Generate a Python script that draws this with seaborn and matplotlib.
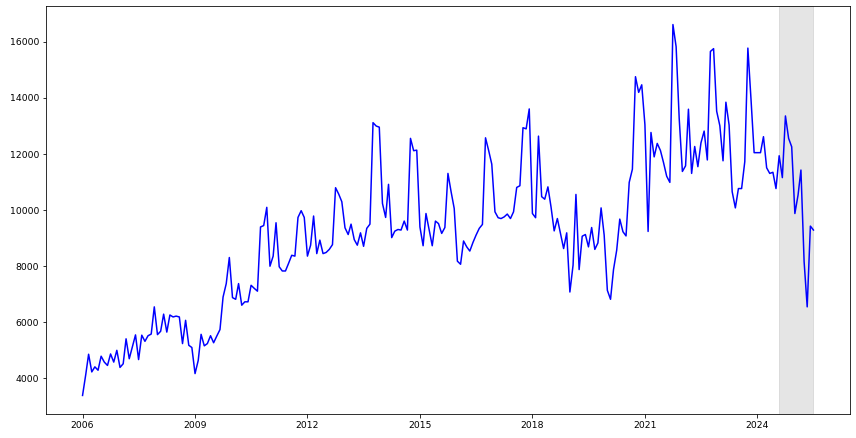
import pandas as pd
import numpy as np
import matplotlib
matplotlib.use('Agg')
import matplotlib.pyplot as plt
import matplotlib.dates as mdates
import seaborn as sns

# serie mensal, jan/2006 ate jul/2025
inicio = '2006-01-01'
valores = [
    3390, 4130, 4860, 4230, 4410, 4290, 4790, 4580, 4460, 4870, 4580, 5000,
    4390, 4520, 5410, 4700, 5120, 5550, 4670, 5540, 5320, 5520, 5580, 6550,
    5560, 5680, 6290, 5650, 6260, 6190, 6220, 6190, 5240, 6070, 5180, 5100,
    4170, 4640, 5570, 5160, 5240, 5520, 5270, 5510, 5740, 6900, 7380, 8310,
    6880, 6820, 7380, 6610, 6730, 6730, 7320, 7210, 7110, 9400, 9450, 10100,
    8000, 8360, 9550, 7980, 7830, 7830, 8100, 8390, 8360, 9740, 9980, 9740,
    8360, 8750, 9790, 8450, 8930, 8450, 8490, 8600, 8770, 10800, 10570, 10300,
    9370, 9130, 9500, 8950, 8750, 9190, 8710, 9350, 9500, 13120, 13000, 12960,
    10240, 9740, 10920, 9020, 9250, 9310, 9290, 9610, 9290, 12560, 12120, 12140,
    9400, 8730, 9880, 9290, 8730, 9610, 9520, 9170, 9380, 11310, 10650, 10060,
    8180, 8070, 8900, 8690, 8540, 8850, 9110, 9350, 9490, 12580, 12120, 11640,
    9940, 9730, 9700, 9760, 9860, 9700, 9940, 10810, 10870, 12940, 12900, 13610,
    9880, 9730, 12640, 10480, 10390, 10830, 10120, 9260, 9700, 9170, 8630, 9190,
    7080, 8040, 10560, 7880, 9070, 9130, 8690, 9380, 8600, 8830, 10080, 9110,
    7140, 6820, 7880, 8570, 9680, 9230, 9080, 10990, 11460, 14760, 14200, 14470,
    13050, 9240, 12770, 11900, 12380, 12130, 11700, 11210, 10990, 16620, 15830, 13270,
    11380, 11580, 13600, 11310, 12270, 11550, 12400, 12820, 11790, 15660, 15760, 13530,
    13010, 11760, 13850, 13040, 10660, 10080, 10770, 10770, 11730, 15780, 13930, 12050,
    12050, 12050, 12620, 11510, 11310, 11350, 10770, 11940, 11160, 13360, 12560, 12260,
    9880, 10540, 11430, 8160, 6550, 9430, 9290,
]
# periodo destacado
destaque_ini = '2024-08-01'
destaque_fim = '2025-07-01'
anos_ticks = [2006, 2009, 2012, 2015, 2018, 2021, 2024]

df = pd.DataFrame({
    'data': pd.date_range(inicio, periods=len(valores), freq='MS'),
    'valor': valores,
})

fig, ax = plt.subplots(figsize=(856 / 72, 438 / 72), dpi=72)
fig.subplots_adjust(left=46 / 856, right=850 / 856, top=1 - 6 / 438, bottom=1 - 414 / 438)

sns.lineplot(data=df, x='data', y='valor', color='blue', linewidth=1.5, ax=ax)
ax.axvspan(pd.Timestamp(destaque_ini), pd.Timestamp(destaque_fim), color='grey', alpha=0.2)

ax.set_xticks([pd.Timestamp(f'{a}-01-01') for a in anos_ticks])
ax.xaxis.set_major_formatter(mdates.DateFormatter('%Y'))
ax.tick_params(labelsize=9.2)
ax.set_xlabel('')
ax.set_ylabel('')

plt.savefig('out.png', dpi=72)
